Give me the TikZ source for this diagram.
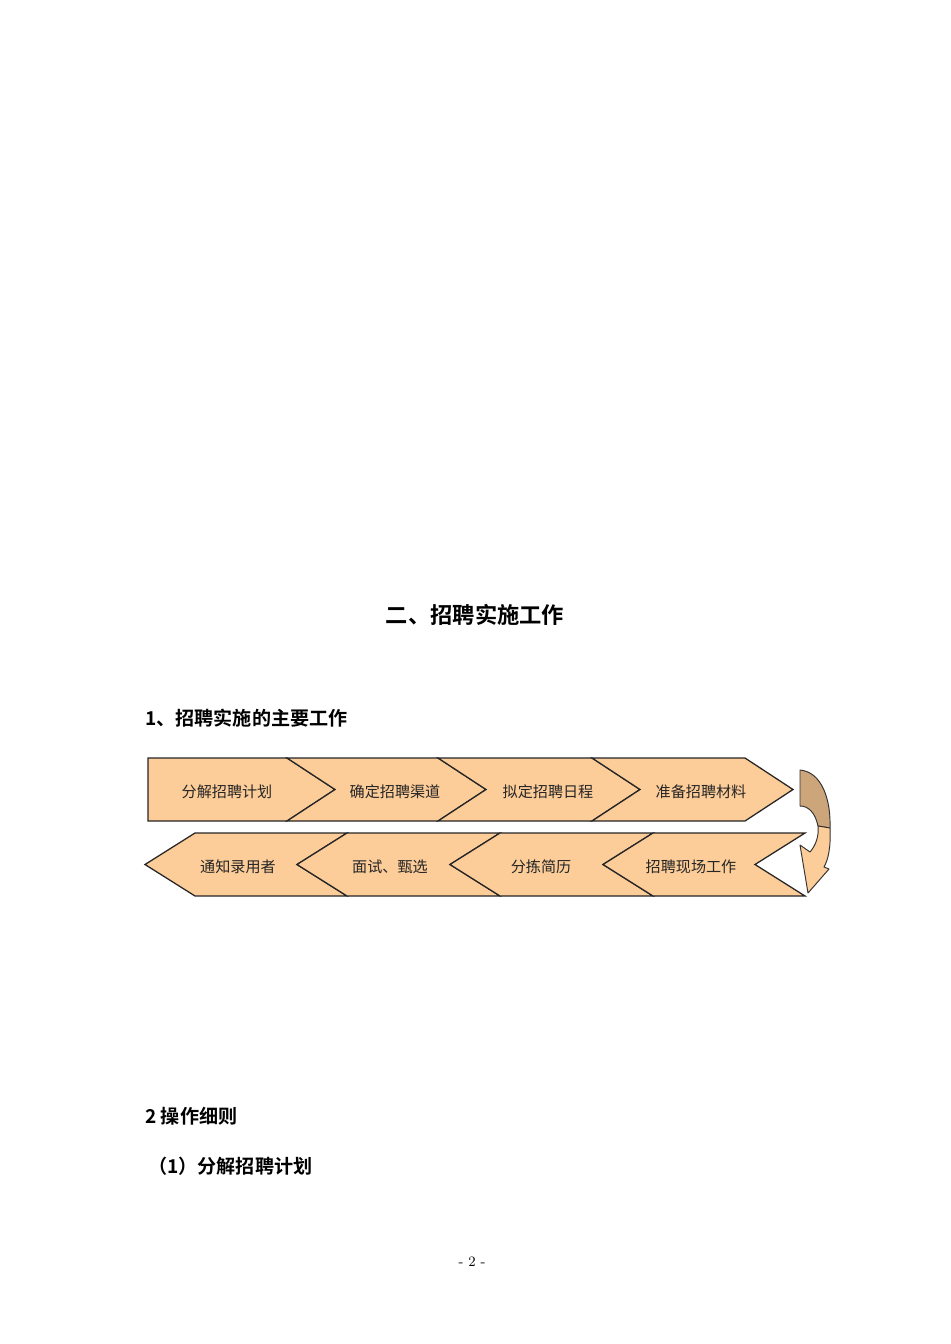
\documentclass[tikz,border=0pt]{standalone}
\usepackage{fontspec}
\newfontfamily\cjk{Noto Sans CJK SC}
\newfontfamily\cjkbold{Noto Sans CJK SC Bold}
\usetikzlibrary{calc}
\definecolor{peach}{RGB}{252,204,153}
\definecolor{tan}{RGB}{205,165,122}
\tikzset{
  stage/.style={fill=peach,draw=black!85,line width=0.8pt,line join=miter},
  stagetext/.style={font=\cjk\fontsize{9.5}{11}\selectfont,text=black!85},
  heading/.style={font=\cjkbold\fontsize{12}{14}\selectfont,anchor=west,inner sep=0pt},
}

\begin{document}
\begin{tikzpicture}[x=0.0221cm,y=-0.0221cm]
  % Constants
  \pgfmathsetmacro\topA{758}
  \pgfmathsetmacro\topB{821}
  \pgfmathsetmacro\topM{789.5}
  \pgfmathsetmacro\botA{833}
  \pgfmathsetmacro\botB{896}
  \pgfmathsetmacro\botM{864.5}
  % Boundary
  \path[use as bounding box] (0,0) rectangle (950,1344);
  % Headings
  \node[font=\cjkbold\fontsize{14}{16}\selectfont,inner sep=0pt] (title) at (475,615) {二、招聘实施工作};
  \node[heading] (sec1) at (145,718) {1、招聘实施的主要工作};
  \node[heading] (sec2) at (145,1116) {2 操作细则};
  \node[heading] (sub1) at (148,1166) {（1）分解招聘计划};
  % Top row: left notch, right corner, notch depth
  \foreach \l/\r/\n in {148/287/0,287/438/48,438/592/48,592/745/48}{
    \draw[stage] (\l,\topA) -- (\r,\topA) -- (\r+48,\topM) -- (\r,\topB)
      -- (\l,\topB) -- (\l+\n,\topM) -- cycle;
  }
  % Bottom row: tip, next tip
  \foreach \t/\u in {145/297,297/450,450/603,603/755}{
    \draw[stage] (\t,\botM) -- (\t+50,\botA) -- (\u+50,\botA) -- (\u,\botM)
      -- (\u+50,\botB) -- (\t+50,\botB) -- cycle;
  }
  % Labels
  \node[stagetext] (plan)    at (227,792) {分解招聘计划};
  \node[stagetext] (channel) at (395,792) {确定招聘渠道};
  \node[stagetext] (sched)   at (548,792) {拟定招聘日程};
  \node[stagetext] (mater)   at (701,792) {准备招聘材料};
  \node[stagetext] (onsite)  at (691,867) {招聘现场工作};
  \node[stagetext] (sort)    at (541,867) {分拣简历};
  \node[stagetext] (select)  at (390,867) {面试、甄选};
  \node[stagetext] (notify)  at (238,867) {通知录用者};
  % Turning arrow
  \filldraw[fill=tan,draw=black!80,line width=0.6pt,line join=round]
    (800,770) .. controls (822,772) and (831,800) .. (830,828) -- (818,826)
    .. controls (815,812) and (808,806) .. (800,806) -- cycle;
  \filldraw[fill=peach,draw=black!80,line width=0.6pt,line join=round]
    (830,828) .. controls (831,848) and (828,860) .. (824,867) -- (829,869) -- (808,893)
    -- (800,845) -- (810,852) .. controls (816,845) and (819,836) .. (818,826) -- cycle;
  % Page number
  \node[font=\fontsize{9}{10}\selectfont,inner sep=0pt] (pagenum) at (472,1262) {- 2 -};
\end{tikzpicture}
\end{document}
